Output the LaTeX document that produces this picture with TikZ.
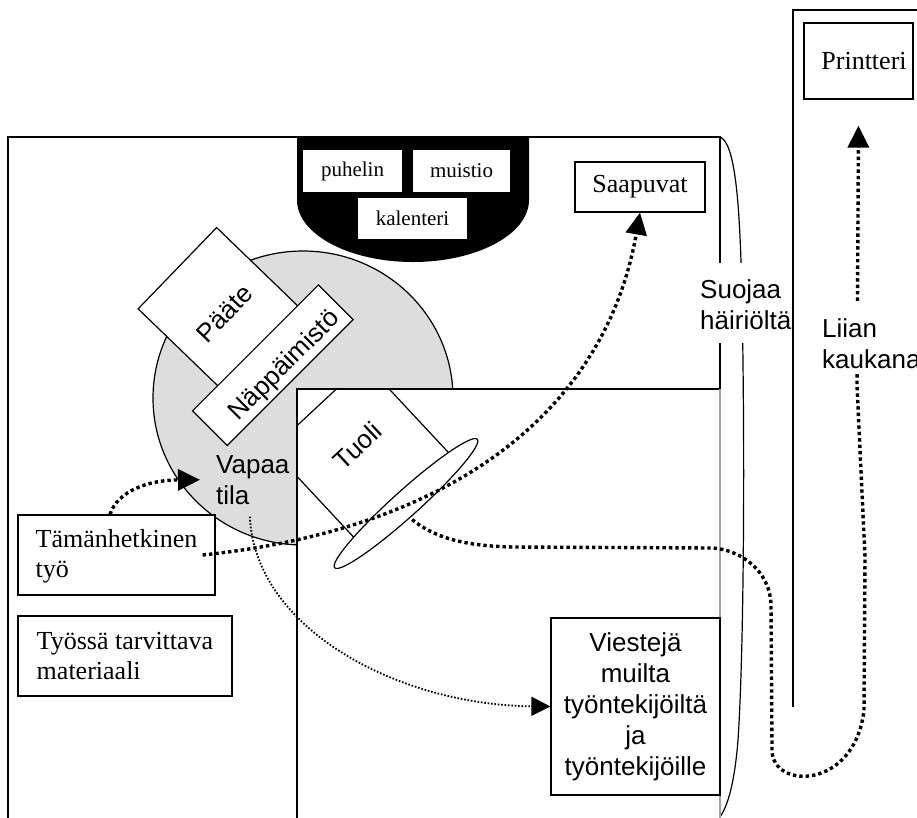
\documentclass[tikz,border=0pt]{standalone}
\usepackage{fontspec}
\setmainfont{Liberation Serif}
\setsansfont{Liberation Sans}
\usetikzlibrary{arrows.meta,shapes.geometric,calc}
\definecolor{lgray}{RGB}{221,221,221}
\definecolor{lline}{RGB}{160,160,160}
\begin{document}
\begin{tikzpicture}[x=1pt,y=-1pt,
  thinline/.style={line width=1.2pt},
  boxed/.style={draw,line width=1.2pt,fill=white,inner sep=0pt},
  serifbig/.style={font=\fontsize{26}{30}\selectfont},
  serifsmall/.style={font=\fontsize{21}{25}\selectfont},
  sansbig/.style={font=\sffamily\fontsize{26}{31}\selectfont},
  bigdots/.style={line width=3.4pt,dash pattern=on 3.4pt off 3pt},
  smalldots/.style={line width=1.8pt,dash pattern=on 1.6pt off 1.8pt},
  bigtip/.style={-{Triangle[length=22pt,width=21pt]}},
  smalltip/.style={-{Triangle[length=19pt,width=19pt]}}
]
\useasboundingbox (0,0) rectangle (917,817);
% outer room
\draw[thinline] (8,820) -- (8,137) -- (720,137) -- (720,389);
\draw[thinline] (720,137) .. controls (735,143) and (740,200) .. (742,300)
  .. controls (745,450) and (744,650) .. (738,740)
  .. controls (734,790) and (726,808) .. (720,817);
% black phone shelf
\fill (297,137) -- (297,200) .. controls (297,234.2) and (349,262) .. (413,262)
  .. controls (477,262) and (529,234.2) .. (529,200) -- (529,137) -- cycle;
\node[fill=white,serifsmall,minimum width=99pt,minimum height=42pt,inner sep=0pt] (puh) at (352.5,171) {puhelin};
\node[fill=white,serifsmall,minimum width=97pt,minimum height=42pt,inner sep=0pt] (muis) at (461.5,171) {muistio};
\node[fill=white,serifsmall,minimum width=109pt,minimum height=41pt,inner sep=0pt] (kal) at (412.5,218.5) {kalenteri};
% grey free space
\filldraw[fill=lgray,thinline] (303,398) ellipse [x radius=150, y radius=147];
% terminal and keyboard
\node[boxed,sansbig,rotate=46,minimum width=113pt,minimum height=131pt] (paate) at (224.5,313.7) {Pääte};
\node[boxed,rotate=45,minimum width=178pt,minimum height=49pt] (napp) at (272.8,365.2) {};
\node[sansbig,rotate=45,inner sep=0pt] (nappt) at (285,366) {Näppäimistö};
% inner table
\fill[white] (297,389) rectangle (720,820);
\begin{scope}
  \clip (297,389) rectangle (720,817);
  \node[boxed,rotate=43,minimum width=127pt,minimum height=130pt] (tuoli) at (362.5,453.5) {};
\end{scope}
\draw[thinline] (297,820) -- (297,389) -- (720,389);
\draw[thinline,lline] (720,389) -- (720,820);
\node[sansbig,rotate=43,inner sep=0pt] (tuolit) at (357,446) {Tuoli};
\node[boxed,ellipse,rotate=42,minimum width=192pt,minimum height=26pt] (back) at (406,503.5) {};
% texts and boxes
\node[sansbig,align=left,anchor=north west,inner sep=0pt] (vapaa) at (216,455) {Vapaa\\tila};
\node[boxed,serifbig,align=left,minimum width=197pt,minimum height=80pt] (tam) at (116.5,555) {\rule{0pt}{21pt}Tämänhetkinen\\työ};
\node[boxed,serifbig,align=left,minimum width=214pt,minimum height=80pt] (tyossa) at (125,656) {Työssä tarvittava\\materiaali};
\node[boxed,serifbig,minimum width=130pt,minimum height=50pt] (saap) at (640,187) {Saapuvat};
\node[boxed,serifbig,minimum width=109pt,minimum height=76pt] (printer) at (858.5,61) {\hspace*{11pt}Printteri};
\node[boxed,sansbig,align=center,minimum width=169pt,minimum height=177pt] (viest) at (635.5,706.5) {Viestejä\\muilta\\työntekijöiltä\\ja\\työntekijöille};
% dotted connectors
\draw[bigdots,bigtip] ([xshift=-6.5pt]tam.north) .. controls (118,490) and (150,480) .. ([xshift=-16pt]vapaa.west);
\draw[bigdots,bigtip] ([xshift=-13pt]tam.east) .. controls (452,529) and (605,412) .. (saap.south);
\draw[bigdots,bigtip] ([xshift=-3pt,yshift=-6pt]back.south) .. controls (435,538) and (465,546) .. (513,547)
  -- (713,548) .. controls (740,550) and (770,570) .. (771,605) -- (772,750)
  .. controls (772,790) and (855,790) .. (864,710) -- (865,557) -- (857,385)
  -- ([yshift=-26pt]printer.south);
\draw[smalldots,smalltip] ([xshift=-3pt,yshift=-12pt]vapaa.south) .. controls (255,630) and (400,705) .. (viest.west);
% labels covering lines
\node[sansbig,align=left,anchor=north west,fill=white,inner xsep=1pt,inner ysep=13pt] (suojaa) at (699,263) {\rule{0pt}{22.6pt}Suojaa\\häiriöltä};
\node[sansbig,align=left,anchor=north west,fill=white,inner xsep=1pt,inner ysep=6pt] (liian) at (821,301) {\rule{0pt}{30pt}Liian\\kaukana};
% corridor
\draw[thinline] (793,707) -- (793,10) -- (920,10);
\end{tikzpicture}
\end{document}
